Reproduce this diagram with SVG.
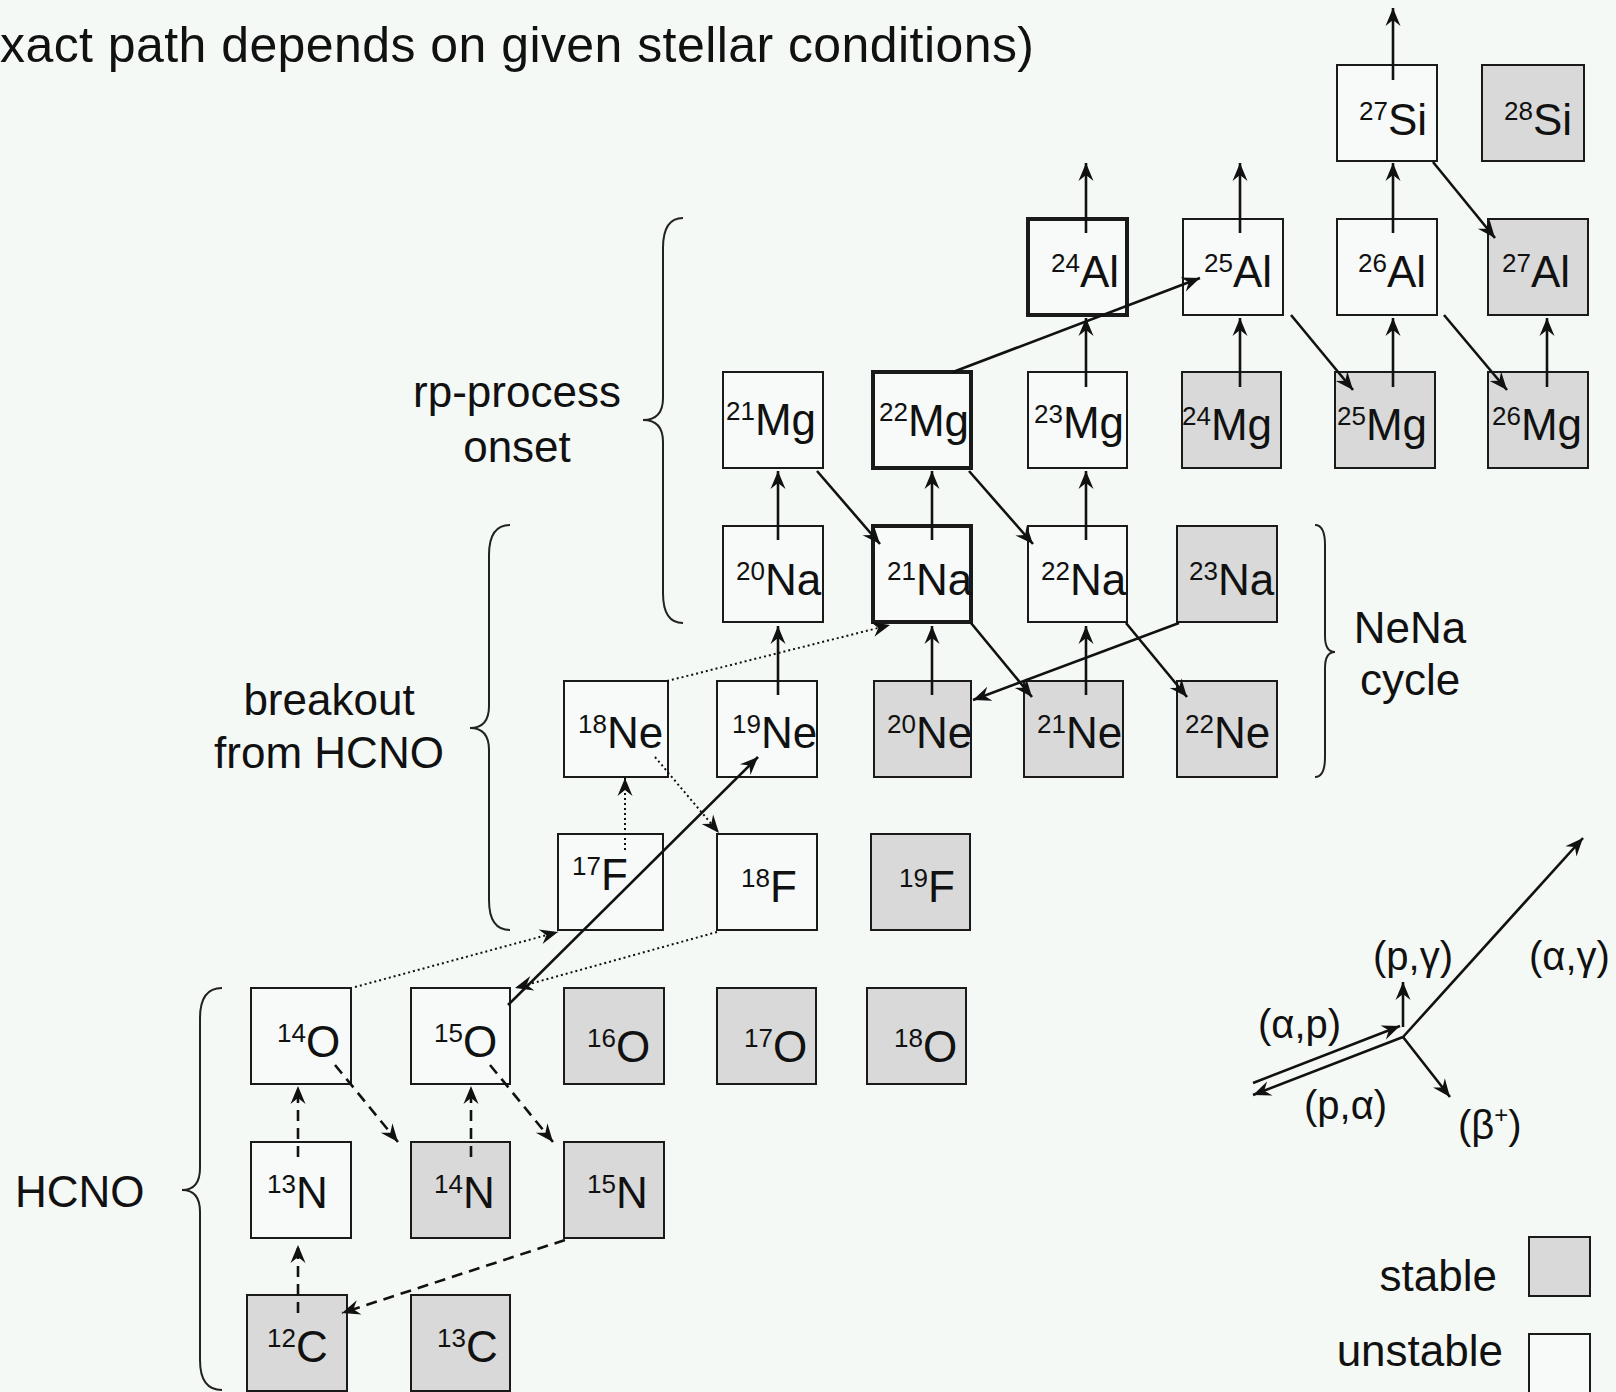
<svg xmlns="http://www.w3.org/2000/svg" width="1616" height="1392" viewBox="0 0 1616 1392">
<defs>
<style>
text{font-family:"Liberation Sans",Arial,sans-serif;fill:#111}
.lbl{font-size:44px}
.sym{font-size:44px}
.sup{font-size:26px}
.rx{font-size:40px}
.box{stroke:#1a1a1a;stroke-width:2}
.u{fill:#f7faf8}
.s{fill:#d8d9d8}
.thick{stroke-width:4}
.c{fill:none;stroke:#111;stroke-width:2.6}
.dot{stroke-width:2;stroke-dasharray:2,3}
.dash{stroke-width:2.6;stroke-dasharray:11,7}
.brace{fill:none;stroke:#222;stroke-width:2}
</style>
<marker id="ah" markerUnits="userSpaceOnUse" markerWidth="22" markerHeight="18" viewBox="-20 -9 22 18" refX="0" refY="0" orient="auto"><path d="M0,0 L-18,-7.5 L-12,0 L-18,7.5 Z" fill="#111"/></marker>
</defs>
<rect x="0" y="0" width="1616" height="1392" fill="#f5f9f6"/>

<text x="0" y="62" font-size="50" textLength="1034" lengthAdjust="spacing">xact path depends on given stellar conditions)</text>

<g id="labels">
<text class="lbl" x="517" y="407" text-anchor="middle">rp-process</text>
<text class="lbl" x="517" y="462" text-anchor="middle">onset</text>
<text class="lbl" x="329" y="715" text-anchor="middle">breakout</text>
<text class="lbl" x="329" y="768" text-anchor="middle">from HCNO</text>
<text class="lbl" x="15" y="1207">HCNO</text>
<text class="lbl" x="1410" y="643" text-anchor="middle">NeNa</text>
<text class="lbl" x="1410" y="695" text-anchor="middle">cycle</text>
</g>

<g id="braces">
<path class="brace" d="M683,218 Q663,218 663,248 L663,398 Q663,420 643,420 Q663,420 663,442 L663,593 Q663,623 683,623"/>
<path class="brace" d="M510,525 Q489,525 489,555 L489,706 Q489,728 470,728 Q489,728 489,750 L489,900 Q489,930 510,930"/>
<path class="brace" d="M222,988 Q200,988 200,1018 L200,1168 Q200,1190 182,1190 Q200,1190 200,1212 L200,1360 Q200,1390 222,1390"/>
<path class="brace" d="M1315,525 Q1325,525 1325,545 L1325,636 Q1325,652 1335,652 Q1325,652 1325,668 L1325,757 Q1325,777 1315,777"/>
</g>

<g id="n27Si"><rect class="box u" x="1337" y="65" width="100" height="96"/><text class="sym" x="1359" y="135"><tspan class="sup" dy="-15">27</tspan><tspan dy="15">Si</tspan></text></g>
<g id="n28Si"><rect class="box s" x="1482" y="65" width="102" height="96"/><text class="sym" x="1504" y="135"><tspan class="sup" dy="-15">28</tspan><tspan dy="15">Si</tspan></text></g>

<g id="n24Al"><rect class="box u thick" x="1028" y="219" width="99" height="96"/><text class="sym" x="1051" y="287"><tspan class="sup" dy="-15">24</tspan><tspan dy="15">Al</tspan></text></g>
<g id="n25Al"><rect class="box u" x="1183" y="219" width="100" height="96"/><text class="sym" x="1204" y="287"><tspan class="sup" dy="-15">25</tspan><tspan dy="15">Al</tspan></text></g>
<g id="n26Al"><rect class="box u" x="1337" y="219" width="100" height="96"/><text class="sym" x="1358" y="287"><tspan class="sup" dy="-15">26</tspan><tspan dy="15">Al</tspan></text></g>
<g id="n27Al"><rect class="box s" x="1488" y="219" width="100" height="96"/><text class="sym" x="1502" y="287"><tspan class="sup" dy="-15">27</tspan><tspan dy="15">Al</tspan></text></g>

<g id="n21Mg"><rect class="box u" x="723" y="372" width="100" height="96"/><text class="sym" x="726" y="435"><tspan class="sup" dy="-15">21</tspan><tspan dy="15">Mg</tspan></text></g>
<g id="n22Mg"><rect class="box u thick" x="873" y="372" width="98" height="96"/><text class="sym" x="879" y="436"><tspan class="sup" dy="-15">22</tspan><tspan dy="15">Mg</tspan></text></g>
<g id="n23Mg"><rect class="box u" x="1028" y="372" width="99" height="96"/><text class="sym" x="1034" y="438"><tspan class="sup" dy="-15">23</tspan><tspan dy="15">Mg</tspan></text></g>
<g id="n24Mg"><rect class="box s" x="1182" y="372" width="99" height="96"/><text class="sym" x="1182" y="440"><tspan class="sup" dy="-15">24</tspan><tspan dy="15">Mg</tspan></text></g>
<g id="n25Mg"><rect class="box s" x="1335" y="372" width="100" height="96"/><text class="sym" x="1337" y="440"><tspan class="sup" dy="-15">25</tspan><tspan dy="15">Mg</tspan></text></g>
<g id="n26Mg"><rect class="box s" x="1488" y="372" width="100" height="96"/><text class="sym" x="1492" y="440"><tspan class="sup" dy="-15">26</tspan><tspan dy="15">Mg</tspan></text></g>

<g id="n20Na"><rect class="box u" x="723" y="526" width="100" height="96"/><text class="sym" x="736" y="595"><tspan class="sup" dy="-15">20</tspan><tspan dy="15">Na</tspan></text></g>
<g id="n21Na"><rect class="box u thick" x="873" y="526" width="98" height="96"/><text class="sym" x="887" y="595"><tspan class="sup" dy="-15">21</tspan><tspan dy="15">Na</tspan></text></g>
<g id="n22Na"><rect class="box u" x="1028" y="526" width="99" height="96"/><text class="sym" x="1041" y="595"><tspan class="sup" dy="-15">22</tspan><tspan dy="15">Na</tspan></text></g>
<g id="n23Na"><rect class="box s" x="1177" y="526" width="100" height="96"/><text class="sym" x="1189" y="595"><tspan class="sup" dy="-15">23</tspan><tspan dy="15">Na</tspan></text></g>

<g id="n18Ne"><rect class="box u" x="564" y="681" width="104" height="96"/><text class="sym" x="578" y="748"><tspan class="sup" dy="-15">18</tspan><tspan dy="15">Ne</tspan></text></g>
<g id="n19Ne"><rect class="box u" x="717" y="681" width="100" height="96"/><text class="sym" x="732" y="748"><tspan class="sup" dy="-15">19</tspan><tspan dy="15">Ne</tspan></text></g>
<g id="n20Ne"><rect class="box s" x="874" y="681" width="97" height="96"/><text class="sym" x="887" y="748"><tspan class="sup" dy="-15">20</tspan><tspan dy="15">Ne</tspan></text></g>
<g id="n21Ne"><rect class="box s" x="1024" y="681" width="99" height="96"/><text class="sym" x="1037" y="748"><tspan class="sup" dy="-15">21</tspan><tspan dy="15">Ne</tspan></text></g>
<g id="n22Ne"><rect class="box s" x="1177" y="681" width="100" height="96"/><text class="sym" x="1185" y="748"><tspan class="sup" dy="-15">22</tspan><tspan dy="15">Ne</tspan></text></g>

<g id="n17F"><rect class="box u" x="558" y="834" width="105" height="96"/><text class="sym" x="572" y="890"><tspan class="sup" dy="-15">17</tspan><tspan dy="15">F</tspan></text></g>
<g id="n18F"><rect class="box u" x="717" y="834" width="100" height="96"/><text class="sym" x="741" y="902"><tspan class="sup" dy="-15">18</tspan><tspan dy="15">F</tspan></text></g>
<g id="n19F"><rect class="box s" x="871" y="834" width="99" height="96"/><text class="sym" x="899" y="902"><tspan class="sup" dy="-15">19</tspan><tspan dy="15">F</tspan></text></g>

<g id="n14O"><rect class="box u" x="251" y="988" width="100" height="96"/><text class="sym" x="277" y="1057"><tspan class="sup" dy="-15">14</tspan><tspan dy="15">O</tspan></text></g>
<g id="n15O"><rect class="box u" x="411" y="988" width="99" height="96"/><text class="sym" x="434" y="1057"><tspan class="sup" dy="-15">15</tspan><tspan dy="15">O</tspan></text></g>
<g id="n16O"><rect class="box s" x="564" y="988" width="100" height="96"/><text class="sym" x="587" y="1062"><tspan class="sup" dy="-15">16</tspan><tspan dy="15">O</tspan></text></g>
<g id="n17O"><rect class="box s" x="717" y="988" width="99" height="96"/><text class="sym" x="744" y="1062"><tspan class="sup" dy="-15">17</tspan><tspan dy="15">O</tspan></text></g>
<g id="n18O"><rect class="box s" x="867" y="988" width="99" height="96"/><text class="sym" x="894" y="1062"><tspan class="sup" dy="-15">18</tspan><tspan dy="15">O</tspan></text></g>

<g id="n13N"><rect class="box u" x="251" y="1142" width="100" height="96"/><text class="sym" x="267" y="1208"><tspan class="sup" dy="-15">13</tspan><tspan dy="15">N</tspan></text></g>
<g id="n14N"><rect class="box s" x="411" y="1142" width="99" height="96"/><text class="sym" x="434" y="1208"><tspan class="sup" dy="-15">14</tspan><tspan dy="15">N</tspan></text></g>
<g id="n15N"><rect class="box s" x="564" y="1142" width="100" height="96"/><text class="sym" x="587" y="1208"><tspan class="sup" dy="-15">15</tspan><tspan dy="15">N</tspan></text></g>

<g id="n12C"><rect class="box s" x="247" y="1295" width="100" height="96"/><text class="sym" x="267" y="1362"><tspan class="sup" dy="-15">12</tspan><tspan dy="15">C</tspan></text></g>
<g id="n13C"><rect class="box s" x="411" y="1295" width="99" height="96"/><text class="sym" x="437" y="1362"><tspan class="sup" dy="-15">13</tspan><tspan dy="15">C</tspan></text></g>

<g id="connectors">
<path class="c" d="M1393,80 L1393,8" marker-end="url(#ah)"/>
<path class="c" d="M1393,233 L1393,163" marker-end="url(#ah)"/>
<path class="c" d="M1393,387 L1393,318" marker-end="url(#ah)"/>
<path class="c" d="M1547,387 L1547,318" marker-end="url(#ah)"/>
<path class="c" d="M1433,162 L1495,238" marker-end="url(#ah)"/>
<path class="c" d="M1444,315 L1507,390" marker-end="url(#ah)"/>
<path class="c" d="M1291,315 L1353,390" marker-end="url(#ah)"/>
<path class="c" d="M1086,233 L1086,163" marker-end="url(#ah)"/>
<path class="c" d="M1240,233 L1240,163" marker-end="url(#ah)"/>
<path class="c" d="M1086,387 L1086,318" marker-end="url(#ah)"/>
<path class="c" d="M1240,387 L1240,318" marker-end="url(#ah)"/>
<path class="c" d="M953,372 L1200,278" marker-end="url(#ah)"/>
<path class="c" d="M778,540 L778,471" marker-end="url(#ah)"/>
<path class="c" d="M932,540 L932,471" marker-end="url(#ah)"/>
<path class="c" d="M1086,540 L1086,471" marker-end="url(#ah)"/>
<path class="c" d="M817,471 L880,544" marker-end="url(#ah)"/>
<path class="c" d="M969,471 L1033,544" marker-end="url(#ah)"/>
<path class="c" d="M778,695 L778,626" marker-end="url(#ah)"/>
<path class="c" d="M932,695 L932,626" marker-end="url(#ah)"/>
<path class="c" d="M1086,695 L1086,626" marker-end="url(#ah)"/>
<path class="c" d="M971,623 L1032,697" marker-end="url(#ah)"/>
<path class="c" d="M1126,623 L1187,697" marker-end="url(#ah)"/>
<path class="c" d="M1179,623 L973,700" marker-end="url(#ah)"/>
<path class="c" d="M508,1005 L758,757" marker-end="url(#ah)"/>
<path class="c dot" d="M667,681 L890,625" marker-end="url(#ah)"/>
<path class="c dot" d="M655,757 L719,833" marker-end="url(#ah)"/>
<path class="c dot" d="M625,850 L625,778" marker-end="url(#ah)"/>
<path class="c dot" d="M355,987 L558,932" marker-end="url(#ah)"/>
<path class="c dot" d="M717,932 L515,988" marker-end="url(#ah)"/>
<path class="c dash" d="M298,1157 L298,1086" marker-end="url(#ah)"/>
<path class="c dash" d="M298,1313 L298,1245" marker-end="url(#ah)"/>
<path class="c dash" d="M471,1157 L471,1086" marker-end="url(#ah)"/>
<path class="c dash" d="M335,1065 L398,1142" marker-end="url(#ah)"/>
<path class="c dash" d="M490,1065 L553,1142" marker-end="url(#ah)"/>
<path class="c dash" d="M565,1240 L342,1313" marker-end="url(#ah)"/>
</g>

<g id="legend-reactions">
<path class="c" d="M1403,1037 L1583,838" marker-end="url(#ah)"/>
<path class="c" d="M1403,1027 L1403,982" marker-end="url(#ah)"/>
<path class="c" d="M1403,1037 L1450,1097" marker-end="url(#ah)"/>
<path class="c" d="M1253,1083 L1400,1026" marker-end="url(#ah)"/>
<path class="c" d="M1403,1037 L1253,1095" marker-end="url(#ah)"/>
<text class="rx" x="1373" y="970">(p,γ)</text>
<text class="rx" x="1529" y="970">(α,γ)</text>
<text class="rx" x="1258" y="1038">(α,p)</text>
<text class="rx" x="1304" y="1119">(p,α)</text>
<text class="rx" x="1458" y="1139">(β<tspan font-size="24" dy="-16">+</tspan><tspan dy="16">)</tspan></text>
</g>

<g id="legend-stable"><rect class="box s" x="1529" y="1237" width="61" height="59"/><text class="lbl" x="1497" y="1291" text-anchor="end">stable</text></g>
<g id="legend-unstable"><rect class="box u" x="1529" y="1334" width="61" height="60"/><text class="lbl" x="1503" y="1366" text-anchor="end">unstable</text></g>
</svg>
